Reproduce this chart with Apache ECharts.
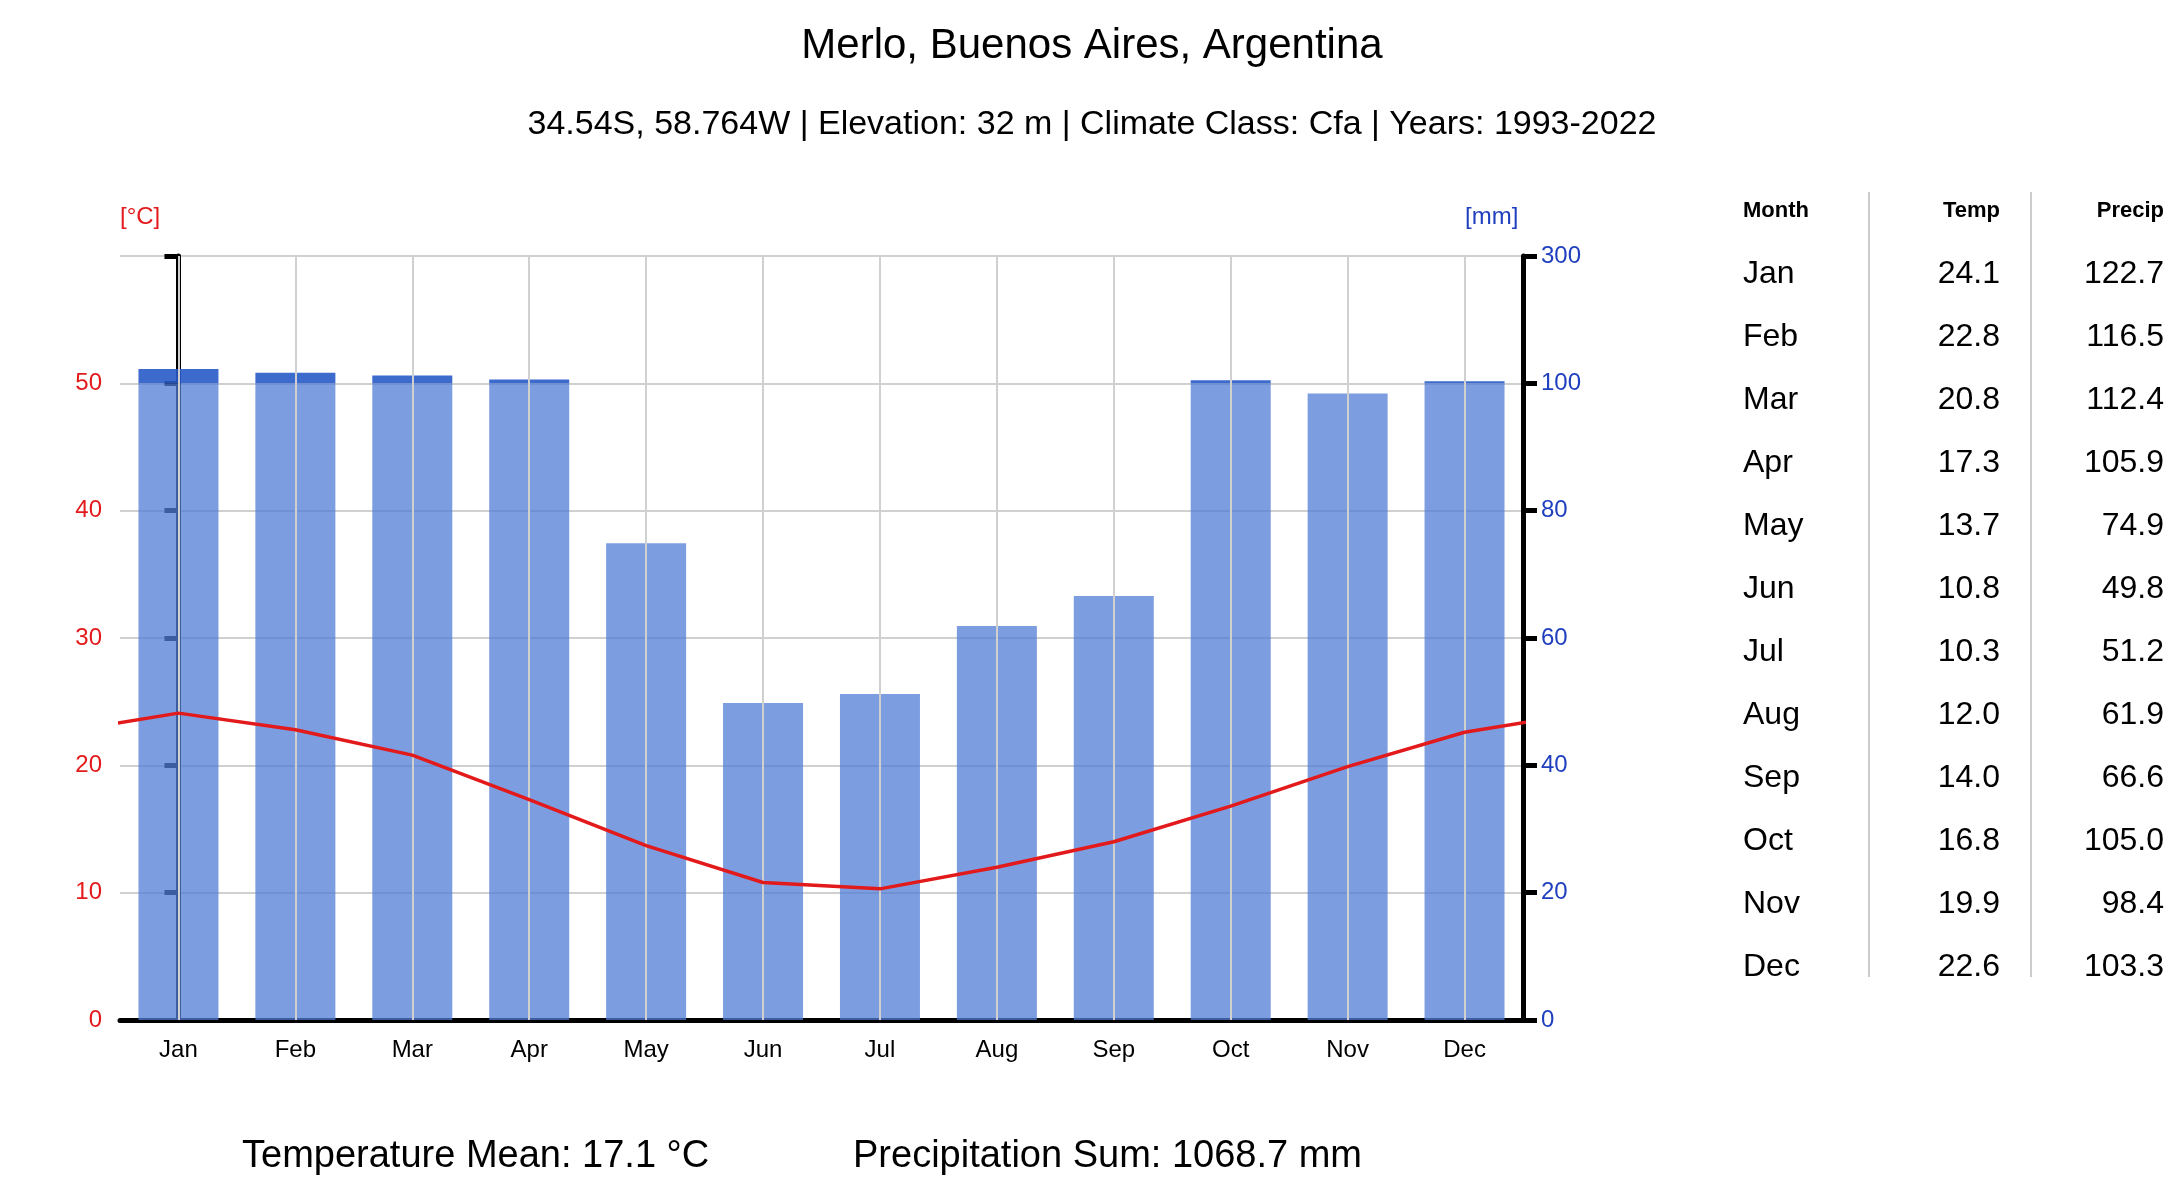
<!DOCTYPE html>
<html><head><meta charset="utf-8">
<script src="https://cdn.jsdelivr.net/npm/echarts@6/dist/echarts.min.js"></script>
<style>html,body{margin:0;background:#fff}#main{width:2184px;height:1204px}</style>
</head><body><div id="main"></div>
<script>
var months = ['Jan','Feb','Mar','Apr','May','Jun','Jul','Aug','Sep','Oct','Nov','Dec'];
var temp = [24.1,22.8,20.8,17.3,13.7,10.8,10.3,12.0,14.0,16.8,19.9,22.6];
var precip = [122.7,116.5,112.4,105.9,74.9,49.8,51.2,61.9,66.6,105.0,98.4,103.3];
var rightLabels = {0:'0',20:'20',40:'40',60:'60',80:'80',100:'100',120:'300'};

var chart = echarts.init(document.getElementById('main'));
var F = 'Arial, Liberation Sans, sans-serif';
var base = precip.map(p => Math.min(p, 100) / 2);
var over = precip.map(p => p > 100 ? (p - 100) / 20 : 0);
// temperature line wrapped past both edges, clipped by the grid
var tline = temp.map((t, i) => [i, t]);
tline.unshift([-1, temp[11]]);
tline.push([12, temp[0]]);

var L = 120, R = 1523, T = 256, B = 1020;
var graphics = [];
var hx = [1743, 2000, 2164];
graphics.push({type:'text', left:hx[0], top:200, style:{text:'Month', font:'bold 22px ' + F, fill:'#000'}});
graphics.push({type:'text', right:2184-hx[1], top:200, style:{text:'Temp', font:'bold 22px ' + F, fill:'#000', textAlign:'right'}});
graphics.push({type:'text', right:2184-hx[2], top:200, style:{text:'Precip', font:'bold 22px ' + F, fill:'#000', textAlign:'right'}});
months.forEach(function (m, i) {
  var y = 276 + i * 63 - 18;
  graphics.push({type:'text', left:hx[0], top:y, style:{text:m, font:'32px ' + F, fill:'#000'}});
  graphics.push({type:'text', right:2184-hx[1], top:y, style:{text:temp[i].toFixed(1), font:'32px ' + F, fill:'#000'}});
  graphics.push({type:'text', right:2184-hx[2], top:y, style:{text:precip[i].toFixed(1), font:'32px ' + F, fill:'#000'}});
});
[1869, 2031].forEach(function (x) {
  graphics.push({type:'line', shape:{x1:x, y1:192, x2:x, y2:977}, style:{stroke:'#ccc', lineWidth:2}});
});
graphics.push({type:'text', left:242, top:1138, style:{text:'Temperature Mean: 17.1 °C', font:'38px ' + F, fill:'#000'}});
graphics.push({type:'text', left:853, top:1138, style:{text:'Precipitation Sum: 1068.7 mm', font:'38px ' + F, fill:'#000'}});
graphics.push({type:'text', left:120, top:205, style:{text:'[°C]', font:'24px ' + F, fill:'#e31a1c', textAlign:'center'}});
graphics.push({type:'text', left:1465, top:205, style:{text:'[mm]', font:'24px ' + F, fill:'#1f3fbf'}});

chart.setOption({
  animation: false,
  title: [
    {text:'Merlo, Buenos Aires, Argentina', left:'center', top:20, textStyle:{fontFamily:F, fontSize:42, fontWeight:'normal', color:'#000'}},
    {text:'34.54S, 58.764W | Elevation: 32 m | Climate Class: Cfa | Years: 1993-2022', left:'center', top:103, textStyle:{fontFamily:F, fontSize:34, fontWeight:'normal', color:'#000'}}
  ],
  grid: {left:L, right:2184-R, top:T, bottom:1204-B},
  xAxis: [
    {type:'category', data:months, boundaryGap:true,
     axisLine:{lineStyle:{color:'#000', width:5}}, axisTick:{show:false},
     axisLabel:{fontFamily:F, fontSize:24, color:'#000', margin:18}},
    {type:'value', min:-0.5, max:11.5, show:false}
  ],
  yAxis: [
    {type:'value', min:0, max:60, interval:10,
     axisLine:{show:true, lineStyle:{color:'#000', width:5}},
     axisTick:{show:true, length:14, lineStyle:{color:'#000', width:5}},
     axisLabel:{fontFamily:F, fontSize:24, color:'#e31a1c', margin:18, formatter:v => v === 60 ? '' : v},
     splitLine:{lineStyle:{color:'#d0d0d0', width:2}}},
    {type:'value', min:0, max:120, interval:20,
     axisLine:{show:true, lineStyle:{color:'#000', width:5}},
     axisTick:{show:true, length:14, lineStyle:{color:'#000', width:5}},
     axisLabel:{fontFamily:F, fontSize:24, color:'#1f3fbf', margin:18, formatter:v => rightLabels[v]},
     splitLine:{show:false}}
  ],
  graphic: graphics,
  series: [
    {type:'bar', stack:'p', data:base, barWidth:80, itemStyle:{color:'rgba(80,124,212,0.75)'},
     markLine:{silent:true, symbol:'none', label:{show:false}, lineStyle:{color:'#d0d0d0', width:2, type:'solid'},
       data: months.map(m => ({xAxis:m}))}},
    {type:'bar', stack:'p', data:over, barWidth:80, itemStyle:{color:'rgba(40,90,200,0.9)'}},
    {type:'line', xAxisIndex:1, data:tline, symbol:'none', clip:true, z:5,
     lineStyle:{color:'#e31a1c', width:3.5}}
  ]
});
</script></body></html>
